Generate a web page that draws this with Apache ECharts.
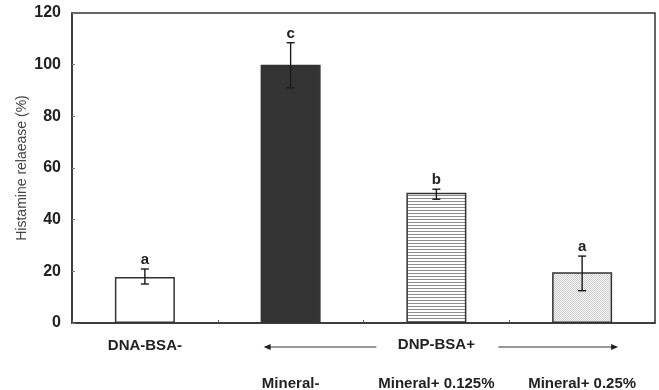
<!DOCTYPE html>
<html><head><meta charset="utf-8">
<script src="https://cdn.jsdelivr.net/npm/echarts@6/dist/echarts.min.js"></script>
<style>html,body{margin:0;padding:0;background:#fff}#c{width:659px;height:390px}</style>
</head><body><div id="c"></div>
<script>
var categories = ["DNA-BSA-", "Mineral-", "Mineral+ 0.125%", "Mineral+ 0.25%"];
var values = [17.8, 100, 50.4, 19.6];
var errUpper = [20.9, 108.5, 51.8, 25.9];
var errLower = [15.1, 91, 47.9, 12.5];
var letters = ["a", "c", "b", "a"];
var yTicks = [0, 20, 40, 60, 80, 100, 120];
var groupLabel = "DNP-BSA+";

function stripes(){
  var c = document.createElement('canvas'); c.width = 4; c.height = 3;
  var g = c.getContext('2d'); g.fillStyle = '#ffffff'; g.fillRect(0,0,4,3);
  g.fillStyle = '#8c8c8c'; g.fillRect(0,0,4,1); return c;
}
function dots(){
  var c = document.createElement('canvas'); c.width = 2; c.height = 2;
  var g = c.getContext('2d'); g.fillStyle = '#f2f2f2'; g.fillRect(0,0,2,2);
  g.fillStyle = '#d2d2d2'; g.fillRect(0,0,1,1); g.fillRect(1,1,1,1); return c;
}
var fills = ['#ffffff', '#333333', {image: stripes(), repeat: 'repeat'}, {image: dots(), repeat: 'repeat'}];

var chart = echarts.init(document.getElementById('c'));
var font = 'Liberation Sans, Arial, sans-serif';
chart.setOption({
  animation: false,
  grid: {left: 72, right: 4, top: 13, bottom: 67, outerBoundsMode: 'none', containLabel: false,
    show: true, borderColor: '#333', borderWidth: 1.5, backgroundColor: 'transparent'},
  xAxis: {
    type: 'category', data: categories,
    axisLine: {lineStyle: {color: '#333', width: 1.5}},
    axisTick: {show: true, inside: true, length: 3, lineStyle: {color: '#555'}},
    axisLabel: {
      margin: 5, interval: 0,
      formatter: function(v, i){ return i === 0 ? '{a|' + v + '}\n{b| }' : '{a| }\n{b|' + v + '}'; },
      rich: {
        a: {fontFamily: font, fontWeight: 'bold', fontSize: 15, color: '#222', lineHeight: 35},
        b: {fontFamily: font, fontWeight: 'bold', fontSize: 15, color: '#222', lineHeight: 42}
      }
    }
  },
  yAxis: {
    type: 'value', min: 0, max: 120, interval: 20,
    name: 'Histamine relaease (%)', nameLocation: 'middle', nameGap: 43, nameMoveOverlap: false,
    nameTextStyle: {fontFamily: font, fontSize: 14, color: '#444', padding: [0, 0, 0, 0]},
    axisLine: {show: true, lineStyle: {color: '#333', width: 1.5}},
    axisTick: {show: true, inside: true, length: 3, lineStyle: {color: '#777'}},
    splitLine: {show: false},
    axisLabel: {fontFamily: font, fontWeight: 'bold', fontSize: 16, color: '#222', margin: 11,
      formatter: function(v){ return yTicks.indexOf(v) >= 0 ? String(v) : ''; }}
  },
  series: [{
    type: 'bar', barWidth: 60, z: 2,
    data: values.map(function(v, i){ return {value: v, itemStyle: {color: fills[i], borderColor: '#333', borderWidth: 1.5}}; })
  }, {
    type: 'custom', z: 5,
    data: categories.map(function(c, i){ return [i, errLower[i], errUpper[i]]; }),
    renderItem: function(params, api){
      var lo = api.coord([api.value(0), api.value(1)]);
      var hi = api.coord([api.value(0), api.value(2)]);
      var x = lo[0], w = 4;
      var s = {stroke: '#1a1a1a', lineWidth: 1.4};
      return {type: 'group', children: [
        {type: 'line', shape: {x1: x, y1: lo[1], x2: x, y2: hi[1]}, style: s},
        {type: 'line', shape: {x1: x - w, y1: lo[1], x2: x + w, y2: lo[1]}, style: s},
        {type: 'line', shape: {x1: x - w, y1: hi[1], x2: x + w, y2: hi[1]}, style: s},
        {type: 'text', x: x, y: hi[1] - 9, style: {text: letters[params.dataIndex], fill: '#222', font: 'bold 15px ' + font, textAlign: 'center', textVerticalAlign: 'middle'}}
      ]};
    }
  }]
});

function drawGroup(){
  var p1 = chart.convertToPixel({xAxisIndex: 0}, categories[1]);
  var p2 = chart.convertToPixel({xAxisIndex: 0}, categories[2]);
  var p3 = chart.convertToPixel({xAxisIndex: 0}, categories[3]);
  var yb = chart.convertToPixel({yAxisIndex: 0}, 0);
  var y = yb + 24;
  var lx = p1 - 27, lEnd = p2 - 60, rStart = p2 + 62, rx = p3 + 36;
  chart.setOption({graphic: [
    {type: 'text', x: p2, y: yb + 22, style: {text: groupLabel, fill: '#222', font: 'bold 15px ' + font, textAlign: 'center', textVerticalAlign: 'middle'}},
    {type: 'line', shape: {x1: lx + 6, y1: y, x2: lEnd, y2: y}, style: {stroke: '#333', lineWidth: 1}},
    {type: 'polygon', shape: {points: [[lx, y], [lx + 7, y - 3], [lx + 7, y + 3]]}, style: {fill: '#222'}},
    {type: 'line', shape: {x1: rStart, y1: y, x2: rx - 6, y2: y}, style: {stroke: '#333', lineWidth: 1}},
    {type: 'polygon', shape: {points: [[rx, y], [rx - 7, y - 3], [rx - 7, y + 3]]}, style: {fill: '#222'}}
  ]});
}
drawGroup();
</script></body></html>
